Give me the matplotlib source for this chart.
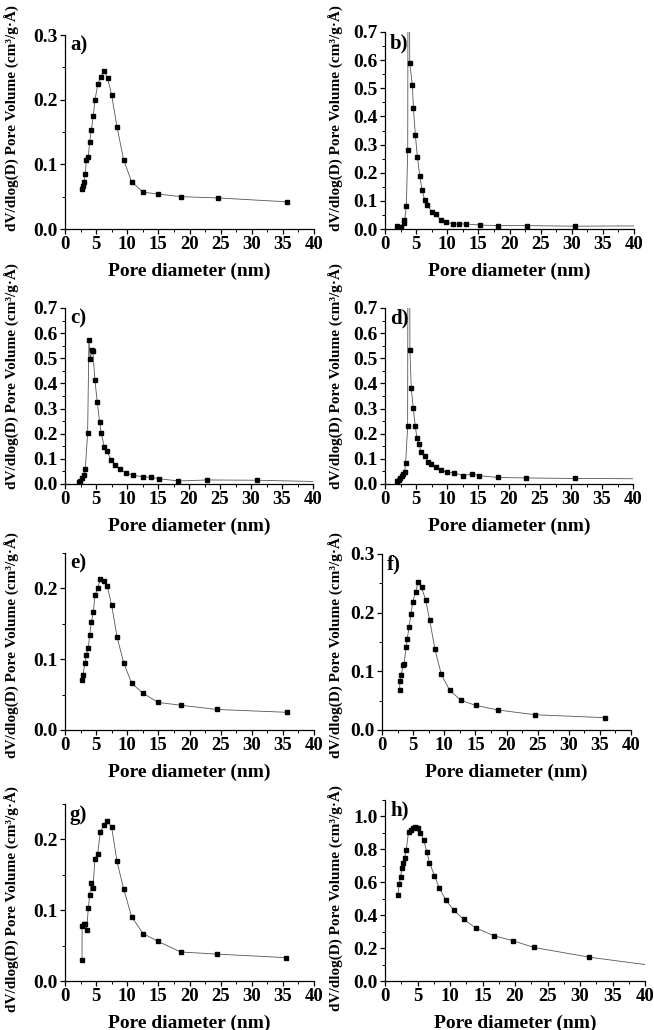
import matplotlib
matplotlib.use("Agg")
import matplotlib.pyplot as plt
import numpy as np
from matplotlib.ticker import MultipleLocator, FormatStrFormatter

# pore diameter (nm) and dV/dlog(D) pore volume (cm3/g.A)
a_d = [2.73, 2.84, 3.0, 3.27, 3.43, 3.75, 3.96, 4.23, 4.55, 4.82, 5.3, 5.73, 6.27,
       6.85, 7.5, 8.35, 9.42, 10.7, 12.53, 14.94, 18.7, 24.6, 35.7]
a_v = [0.062, 0.066, 0.072, 0.085, 0.107, 0.112, 0.135, 0.153, 0.175, 0.200, 0.225,
       0.235, 0.245, 0.233, 0.207, 0.158, 0.107, 0.073, 0.057, 0.054, 0.050, 0.048, 0.042]

b_d = [1.98, 2.63, 3.0, 3.1, 3.43, 3.65, 3.97, 4.4, 4.56, 4.88, 5.2, 5.58, 5.95, 6.38,
       6.8, 7.56, 8.15, 9.0, 9.87, 11.0, 11.96, 13.04, 15.24, 18.2, 22.8, 30.5]
b_v = [0.012, 0.007, 0.032, 0.021, 0.080, 0.281, 0.590, 0.510, 0.431, 0.333, 0.257,
       0.189, 0.139, 0.102, 0.086, 0.059, 0.053, 0.031, 0.024, 0.018, 0.018, 0.018,
       0.014, 0.012, 0.012, 0.010]
b_spike_d = [3.70, 3.93]
b_spike_v = [0.95, 0.95]
b_tail_d = [40.0]
b_tail_v = [0.011]

c_d = [2.2, 2.47, 2.74, 3.0, 3.27, 3.65, 3.86, 4.08, 4.35, 4.5, 4.83, 5.2, 5.58, 5.85,
       6.33, 6.76, 7.46, 8.05, 8.85, 9.82, 10.94, 12.66, 13.84, 15.2, 18.3, 22.9, 30.9]
c_v = [0.007, 0.013, 0.024, 0.037, 0.060, 0.201, 0.572, 0.497, 0.533, 0.527, 0.412,
       0.327, 0.247, 0.201, 0.148, 0.131, 0.095, 0.075, 0.061, 0.044, 0.035, 0.028,
       0.027, 0.021, 0.012, 0.016, 0.015]
c_tail_d = [40.0]
c_tail_v = [0.010]

d_d = [1.98, 2.2, 2.47, 2.74, 2.95, 3.17, 3.33, 3.65, 4.02, 4.24, 4.56, 4.88, 5.15,
       5.47, 5.8, 6.38, 6.87, 7.46, 8.15, 8.96, 9.92, 11.16, 12.66, 14.0, 15.2, 18.2,
       22.8, 30.6]
d_v = [0.013, 0.017, 0.024, 0.033, 0.041, 0.047, 0.084, 0.229, 0.531, 0.380, 0.301,
       0.231, 0.184, 0.161, 0.129, 0.113, 0.089, 0.080, 0.067, 0.055, 0.047, 0.044,
       0.033, 0.040, 0.033, 0.026, 0.024, 0.022]
d_spike_d = [3.70, 3.97]
d_spike_v = [0.95, 0.95]
d_tail_d = [40.0]
d_tail_v = [0.021]

e_d = [2.73, 2.89, 3.21, 3.43, 3.75, 3.96, 4.23, 4.55, 4.82, 5.25, 5.68, 6.32, 6.8,
       7.5, 8.35, 9.42, 10.7, 12.53, 14.94, 18.58, 24.4, 35.66]
e_v = [0.070, 0.078, 0.095, 0.106, 0.116, 0.134, 0.152, 0.166, 0.190, 0.201, 0.213,
       0.211, 0.203, 0.176, 0.132, 0.095, 0.066, 0.052, 0.039, 0.035, 0.029, 0.025]

f_d = [2.83, 2.89, 3.1, 3.37, 3.53, 3.9, 4.06, 4.33, 4.65, 4.92, 5.4, 5.83, 6.36,
       7.0, 7.65, 8.5, 9.52, 10.86, 12.62, 15.03, 18.7, 24.6, 35.8]
f_v = [0.068, 0.084, 0.094, 0.110, 0.112, 0.142, 0.155, 0.175, 0.197, 0.218, 0.236,
       0.252, 0.243, 0.222, 0.188, 0.138, 0.095, 0.068, 0.051, 0.042, 0.034, 0.026, 0.021]

g_d = [2.73, 2.75, 3.0, 3.21, 3.48, 3.75, 3.96, 4.23, 4.5, 4.82, 5.25, 5.68, 6.27,
       6.8, 7.5, 8.35, 9.42, 10.7, 12.53, 14.94, 18.58, 24.4, 35.45]
g_v = [0.030, 0.077, 0.080, 0.080, 0.0725, 0.103, 0.121, 0.139, 0.132, 0.173, 0.180,
       0.211, 0.220, 0.226, 0.217, 0.169, 0.130, 0.091, 0.067, 0.056, 0.041, 0.038, 0.033]

h_d = [1.99, 2.19, 2.4, 2.6, 2.8, 3.0, 3.27, 3.62, 3.98, 4.29, 4.54, 4.85, 5.15,
       5.46, 5.97, 6.43, 6.84, 7.6, 8.37, 9.39, 10.6, 12.1, 13.93, 16.7, 19.64,
       22.9, 31.4]
h_v = [0.525, 0.590, 0.635, 0.684, 0.720, 0.748, 0.795, 0.908, 0.920, 0.928, 0.934,
       0.932, 0.928, 0.902, 0.855, 0.785, 0.720, 0.641, 0.563, 0.490, 0.430, 0.375,
       0.323, 0.276, 0.245, 0.204, 0.145]
h_tail_d = [40.0]
h_tail_v = [0.100]

tags = ["a)", "b)", "c)", "d)", "e)", "f)", "g)", "h)"]
y_max = [0.3, 0.7, 0.7, 0.7, 0.25, 0.3, 0.25, 1.1]
y_major = [0.1, 0.1, 0.1, 0.1, 0.1, 0.1, 0.1, 0.2]
y_top_tick = [0.3, 0.7, 0.7, 0.7, 0.2, 0.3, 0.2, 1.0]

points = [(a_d, a_v), (b_d, b_v), (c_d, c_v), (d_d, d_v),
          (e_d, e_v), (f_d, f_v), (g_d, g_v), (h_d, h_v)]
extras = [[], [(b_spike_d, b_spike_v), (b_tail_d, b_tail_v)], [(c_tail_d, c_tail_v)],
          [(d_spike_d, d_spike_v), (d_tail_d, d_tail_v)], [], [], [], [(h_tail_d, h_tail_v)]]

# axes boxes in pixels: left, top, right, bottom
W, H = 654, 1030
boxes = [(65, 35, 314, 229), (385, 32, 634, 229),
         (65, 308, 313, 484), (385, 308, 633, 484),
         (65, 553, 314, 730), (382, 554, 631, 730),
         (65, 804, 314, 981), (385, 800, 645, 981)]
ylabel_y = [118, 118, 376, 376, 645, 645, 899, 898]

plt.rcParams.update({
    "font.family": ["Liberation Serif", "DejaVu Serif"],
    "font.weight": "bold",
    "axes.linewidth": 0.9,
    "xtick.major.width": 0.9,
    "ytick.major.width": 0.9,
    "xtick.minor.width": 0.7,
    "ytick.minor.width": 0.7,
    "xtick.major.size": 3.5,
    "ytick.major.size": 3.5,
    "xtick.minor.size": 2.0,
    "ytick.minor.size": 2.0,
})

fig = plt.figure(figsize=(W / 100, H / 100), dpi=100)

for i, (l, t, r, b) in enumerate(boxes):
    ax = fig.add_axes([l / W, 1 - b / H, (r - l) / W, (b - t) / H])
    d, v = points[i]
    ld = list(d)
    lv = list(v)
    for ed, ev in extras[i]:
        ld += list(ed)
        lv += list(ev)
    order = np.argsort(ld, kind="stable")
    ld = np.array(ld)[order]
    lv = np.array(lv)[order]
    ax.plot(ld, lv, color="#555555", linewidth=0.6, zorder=2)
    ax.plot(d, v, linestyle="none", marker="s", markersize=3.4, color="black", zorder=3)

    ax.set_xlim(0, 40)
    ax.set_ylim(0, y_max[i])
    ax.xaxis.set_major_locator(MultipleLocator(5))
    ax.xaxis.set_minor_locator(MultipleLocator(2.5))
    ax.set_yticks(np.arange(0, y_top_tick[i] + 1e-6, y_major[i]))
    ax.yaxis.set_minor_locator(MultipleLocator(y_major[i] / 2))
    ax.yaxis.set_major_formatter(FormatStrFormatter("%.1f"))
    ax.tick_params(which="both", direction="out", pad=1.5)
    ax.tick_params(axis="x", labelsize=13.5)
    ax.tick_params(axis="y", labelsize=14)
    for lab in ax.get_xticklabels() + ax.get_yticklabels():
        lab.set_fontweight("bold")
    ax.spines["top"].set_visible(False)
    ax.spines["right"].set_visible(False)
    ax.text(0.02, 0.995, tags[i], transform=ax.transAxes, ha="left", va="top",
            fontsize=15, fontweight="bold")

    fig.text((l + r) / 2 / W, 1 - (b + 42) / H, "Pore diameter (nm)",
             ha="center", va="center", fontsize=14, fontweight="bold")
    lx = 12 if l < 200 else 336
    fig.text(lx / W, 1 - ylabel_y[i] / H, "dV/dlog(D) Pore Volume (cm³/g·Å)",
             rotation=90, ha="center", va="center", fontsize=11, fontweight="bold")

fig.savefig("out.png", dpi=100, facecolor="white")
